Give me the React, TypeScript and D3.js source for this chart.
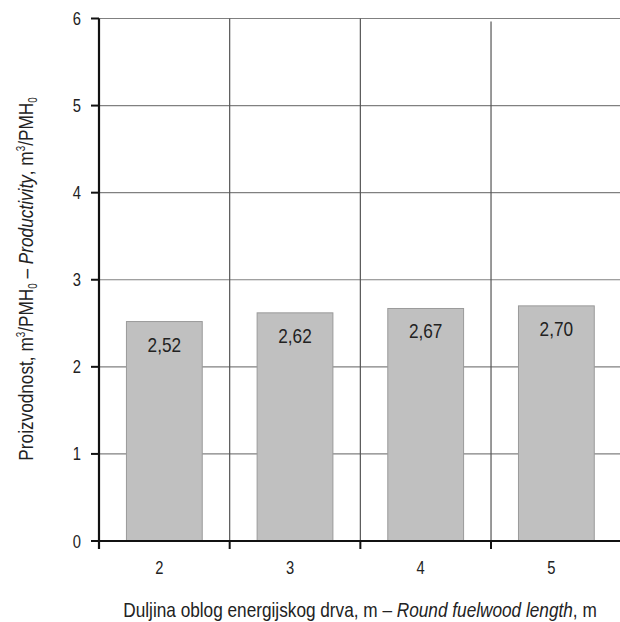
import React from "react";
import * as d3 from "d3";

const categories = ["2", "3", "4", "5"];
const values = [2.52, 2.62, 2.67, 2.7];
const valueLabels = ["2,52", "2,62", "2,67", "2,70"];
const yTicks = [0, 1, 2, 3, 4, 5, 6];

const W = 620;
const H = 622;
const left = 99;
const right = 621.7;
const top = 18.5;
const bottom = 541;
const FONT = "'Liberation Sans', Arial, sans-serif";
const NX = 0.82; // horizontal condensation to mimic a narrow face

function NText(props: { x: number; y: number; size: number; anchor?: string; rotate?: number; children: React.ReactNode }) {
  const { x, y, size, anchor = "middle", rotate = 0, children } = props;
  return (
    <g transform={`translate(${x},${y}) rotate(${rotate}) scale(${NX},1)`}>
      <text x={0} y={0} textAnchor={anchor} fontSize={size} fill="#222">{children}</text>
    </g>
  );
}

export default function App() {
  const x = d3.scaleBand<string>().domain(categories).range([left, right]).paddingInner(0.42).paddingOuter(0.21);
  const y = d3.scaleLinear().domain([0, 6]).range([bottom, top]);
  const step = x.step();
  const bounds = d3.range(categories.length + 1).map((i) => left + i * step);

  return (
    <svg width={W} height={H} style={{ position: "absolute", left: 0, top: 0, background: "#fff" }} fontFamily={FONT}>
      {yTicks.filter((t) => t > 0).map((t) => (
        <line key={"h" + t} x1={left} x2={W} y1={y(t)} y2={y(t)} stroke="#808080" strokeWidth={1.2} />
      ))}
      {bounds.slice(1).map((b, i) => (
        <line key={"v" + i} x1={b} x2={b} y1={i === 2 ? top + 3 : top} y2={bottom} stroke="#555" strokeWidth={1.2} />
      ))}
      {categories.map((c, i) => (
        <rect key={"b" + c} x={x(c)} y={y(values[i])} width={x.bandwidth()} height={bottom - y(values[i])} fill="#c0c0c0" stroke="#9a9a9a" strokeWidth={1} />
      ))}
      {categories.map((c, i) => (
        <NText key={"l" + c} x={(x(c) as number) + x.bandwidth() / 2} y={y(values[i]) + 30} size={21}>
          {valueLabels[i]}
        </NText>
      ))}
      <line x1={left} x2={left} y1={top} y2={bottom + 8} stroke="#111" strokeWidth={2.2} />
      {yTicks.map((t) => (
        <g key={"yt" + t}>
          <line x1={left - 8} x2={left} y1={y(t)} y2={y(t)} stroke="#111" strokeWidth={2} />
          <NText x={81} y={y(t) + 6.5} size={18} anchor="end">{t}</NText>
        </g>
      ))}
      <line x1={left - 8} x2={W} y1={bottom} y2={bottom} stroke="#111" strokeWidth={2.2} />
      {bounds.map((b, i) => (
        <line key={"xt" + i} x1={b} x2={b} y1={bottom} y2={bottom + 8} stroke="#111" strokeWidth={2} />
      ))}
      {categories.map((c) => (
        <NText key={"xl" + c} x={(x(c) as number) + x.bandwidth() / 2 - 5} y={574} size={18}>{c}</NText>
      ))}
      <NText x={360} y={617} size={21}>
        Duljina oblog energijskog drva, m – <tspan fontStyle="italic">Round fuelwood length</tspan>, m
      </NText>
      <NText x={33} y={279} size={21} rotate={-90}>
        Proizvodnost, m<tspan fontSize={12} dy={-8}>3</tspan><tspan dy={8}>/PMH</tspan><tspan fontSize={12} dy={4}>0</tspan><tspan dy={-4}> – </tspan><tspan fontStyle="italic">Productivity</tspan>, m<tspan fontSize={12} dy={-8}>3</tspan><tspan dy={8}>/PMH</tspan><tspan fontSize={12} dy={4}>0</tspan>
      </NText>
    </svg>
  );
}
